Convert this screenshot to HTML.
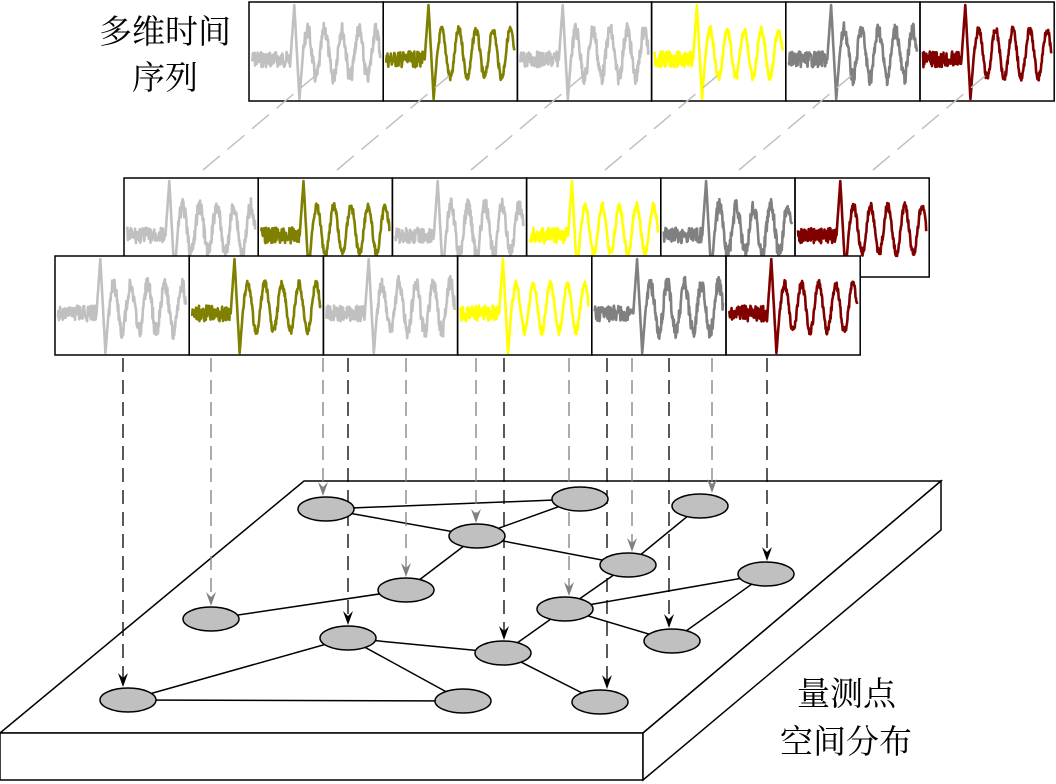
<!DOCTYPE html>
<html><head><meta charset="utf-8"><style>
html,body{margin:0;padding:0;background:#fff;width:1056px;height:784px;overflow:hidden}
text{font-family:"Liberation Serif","Noto Serif CJK SC","Noto Sans CJK SC",serif;font-size:33px;fill:#000}
</style></head><body>
<svg id="s" width="1056" height="784" viewBox="0 0 1056 784" xmlns="http://www.w3.org/2000/svg">
<text x="99" y="43">多维时间</text>
<text x="132" y="89">序列</text>
<text x="797" y="705">量测点</text>
<text x="780" y="753">空间分布</text>
<polygon points="304,481 941,481 643,733 0,733" fill="#fff" stroke="#000" stroke-width="1.5"/>
<polygon points="0,733 643,733 643,780 0,780" fill="#fff" stroke="#000" stroke-width="1.5"/>
<polygon points="643,733 941,481 941,530 643,780" fill="#fff" stroke="#000" stroke-width="1.5"/>
<g id="g"></g>
</svg>
<script>
var g=document.getElementById('g'),NS='http://www.w3.org/2000/svg';
function el(t,a){var e=document.createElementNS(NS,t);for(var k in a)e.setAttribute(k,a[k]);g.appendChild(e);return e;}
var cols=['#c0c0c0','#808000','#c0c0c0','#ffff00','#808080','#800000'];
var seed=7;function rnd(){seed=(seed*9301+49297)%233280;return seed/233280;}
function wave(x,y,w,h,c,noisy){
  var d='',base=y+h*0.58;
  var nz=noisy?0.16:0.08;
  for(var i=0;i<=300;i++){
    var t=i/300,px=x+3+t*(w-6),v;
    if(t<0.3){v=(rnd()-0.5)*h*0.16;}
    else if(t<0.33){var u=(t-0.3)/0.03;v=-h*0.55*u;}
    else if(t<0.37){var u=(t-0.33)/0.04;v=-h*0.55+h*0.95*u;}
    else if(t<0.40){var u=(t-0.37)/0.03;v=h*0.4*(1-u)-h*0.1*u;}
    else{v=-Math.sin((t-0.40)/0.60*Math.PI*9)*h*0.24-h*0.06+(rnd()-0.5)*h*nz;}
    d+=(i?'L':'M')+px.toFixed(1)+','+(base+v).toFixed(1);
  }
  el('path',{d:d,fill:'none',stroke:c,'stroke-width':2.6,'stroke-linejoin':'round'});
}
function row(x0,y0){
  var w=134.2,h=99;
  el('rect',{x:x0,y:y0,width:w*6,height:h,fill:'#fff',stroke:'none'});
  for(var i=0;i<6;i++){wave(x0+i*w,y0,w,h,cols[i],i==0||i==2||i==4);}
  for(var i=0;i<6;i++)el('rect',{x:x0+i*w,y:y0,width:w,height:h,fill:'none',stroke:'#000','stroke-width':1.5});
}
row(249,2);
for(var i=0;i<6;i++){var bx=203+i*134;el('line',{x1:bx,y1:170,x2:bx+112,y2:76,stroke:'#c0c0c0','stroke-width':1.5,'stroke-dasharray':'22,10'});}
row(124,178);
row(55,256);
var N=[[326,509],[580,499],[700,506],[477,536],[628,565],[766,574],[406,590],[565,609],[211,619],[348,638],[672,641],[503,653],[128,700],[463,701],[600,702]];
var E=[[0,1],[0,3],[3,1],[3,4],[3,6],[6,8],[2,4],[4,7],[7,5],[7,10],[5,10],[7,11],[9,11],[9,12],[9,13],[12,13],[11,14]];
E.forEach(function(e){el('line',{x1:N[e[0]][0],y1:N[e[0]][1],x2:N[e[1]][0],y2:N[e[1]][1],stroke:'#000','stroke-width':1.5});});
var A=[[123,12,'#000'],[348,9,'#000'],[504,11,'#000'],[607,14,'#000'],[669,10,'#000'],[767,5,'#000'],
[211,8,'#808080'],[323,0,'#808080'],[406,6,'#808080'],[476,3,'#808080'],[569,7,'#808080'],[632,4,'#808080'],[712,2,'#808080']];
A.forEach(function(a){var x=a[0],ty=N[a[1]][1]-13;
  el('line',{x1:x,y1:358,x2:x,y2:ty-4,stroke:a[2],'stroke-width':1.3,'stroke-dasharray':'14,8'});
  el('polygon',{points:(x-5)+','+(ty-14)+' '+x+','+ty+' '+(x+5)+','+(ty-14)+' '+x+','+(ty-9),fill:a[2]});
});
N.forEach(function(n){el('ellipse',{cx:n[0],cy:n[1],rx:28,ry:12,fill:'#c0c0c0',stroke:'#000','stroke-width':1.5});});
</script>
</body></html>
